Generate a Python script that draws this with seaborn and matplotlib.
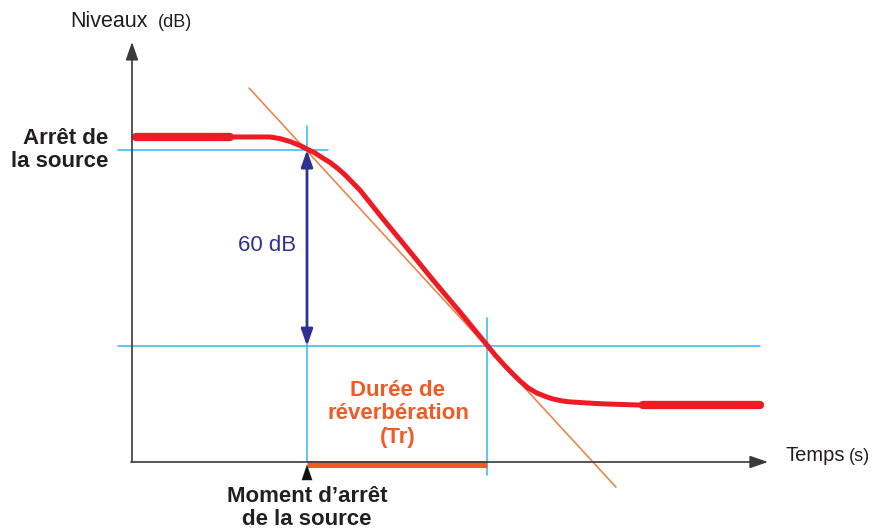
import matplotlib
matplotlib.use('Agg')
import matplotlib.pyplot as plt
import numpy as np
import pandas as pd
import seaborn as sns

sns.set_style('white')
plt.rcParams['font.family'] = ['Liberation Sans', 'DejaVu Sans']

# decay curve: time (s), level (dB)
decay_t = [0.04, 0.98, 1.38, 1.48, 1.58, 1.68, 1.75, 1.83, 1.90, 1.98, 2.06,
           2.13, 2.20, 2.28, 2.39, 2.51, 2.75, 3.01, 3.28, 3.55, 3.63, 3.73,
           3.81, 3.88, 3.96, 4.05, 4.13, 4.21, 4.30, 4.38, 4.53, 4.71, 5.11,
           6.28]
decay_db = [99.5, 99.5, 99.5, 99.0, 98.1, 96.9, 95.8, 94.6, 93.2, 91.7, 89.8,
            87.9, 85.7, 83.2, 79.0, 74.4, 65.5, 55.7, 45.9, 35.8, 32.8, 29.4,
            26.9, 24.8, 22.7, 21.1, 20.1, 19.3, 18.7, 18.4, 18.1, 17.8, 17.4,
            17.4]
steady_on = ([0.04, 0.98], [99.5, 99.5])
steady_off = ([5.11, 6.28], [17.4, 17.4])

tangent_t = [1.17, 4.84]
tangent_db = [114.5, -7.7]

t_stop = 1.75
t_end = 3.55
level_start = 95.5
level_end = 35.5

RED = '#ed1c24'
ORANGE = '#f15a24'
TANGENT = '#f47a3c'
BLUE = '#3fbff0'
NAVY = '#2e3192'
AXIS = '#3a3a3a'
INK = '#231f20'

fig = plt.figure(figsize=(8.77, 5.30), dpi=100)
ax = fig.add_axes([0, 0, 1, 1])
ax.set_xlim(-1.32, 7.45)
ax.set_ylim(-20.82, 141.43)
ax.axis('off')

# reference lines
ax.plot([-0.14, 1.96], [level_start, level_start], color=BLUE, lw=1.2)
ax.plot([-0.14, 6.28], [level_end, level_end], color=BLUE, lw=1.2)
ax.plot([t_stop, t_stop], [0, 103.0], color=BLUE, lw=1.2)
ax.plot([t_end, t_end], [-4.0, 44.0], color=BLUE, lw=1.2)

# axes with arrows
head = '-|>,head_length=1.1,head_width=0.38'
ax.annotate('', xy=(0, 128.6), xytext=(0, 0),
            arrowprops=dict(arrowstyle=head, color=AXIS, lw=1.2,
                            shrinkA=0, shrinkB=0))
ax.annotate('', xy=(6.36, 0), xytext=(-0.01, 0),
            arrowprops=dict(arrowstyle=head, color=AXIS, lw=1.2,
                            shrinkA=0, shrinkB=0))

# tangent line
sns.lineplot(x=tangent_t, y=tangent_db, color=TANGENT, lw=1.1, ax=ax, sort=False)

# decay curve
df = pd.DataFrame({'t': decay_t, 'db': decay_db})
sns.lineplot(data=df, x='t', y='db', color=RED, lw=3.6, ax=ax, sort=False,
             solid_capstyle='round', solid_joinstyle='round')
for seg in (steady_on, steady_off):
    ax.plot(seg[0], seg[1], color=RED, lw=6.0, solid_capstyle='round')

# reverberation time bar
ax.plot([t_stop, t_end], [-0.6, -0.6], color=ORANGE, lw=5.0, solid_capstyle='butt')

# 60 dB double arrow
ax.annotate('', xy=(t_stop, level_start), xytext=(t_stop, level_end),
            arrowprops=dict(arrowstyle='<|-|>,head_length=1.0,head_width=0.35',
                            color=NAVY, lw=2.0, shrinkA=0, shrinkB=0))

# marker for the moment the source stops
ax.annotate('', xy=(t_stop, -0.8), xytext=(t_stop, -5.5),
            arrowprops=dict(arrowstyle=head, color='#111111', lw=0.1,
                            shrinkA=0, shrinkB=0))

# texts
ax.text(-0.62, 134.7, 'Niveaux', fontsize=15.5, color=INK, ha='left', va='center')
ax.text(0.26, 134.4, '(dB)', fontsize=13, color=INK, ha='left', va='center')
ax.text(6.53, 2.1, 'Temps', fontsize=14.5, color=INK, ha='left', va='center')
ax.text(7.17, 1.6, '(s)', fontsize=13, color=INK, ha='left', va='center')
ax.text(-0.24, 95.5, 'Arrêt de\nla source', fontsize=16, fontweight='bold',
        color=INK, ha='right', va='center', linespacing=1.15)
ax.text(1.64, 66.4, '60 dB', fontsize=16, color=NAVY, ha='right', va='center')
ax.text(2.66, 14.7, 'Durée de\nréverbération\n(Tr)', fontsize=16, fontweight='bold',
        color=ORANGE, ha='center', va='center', linespacing=1.17)
ax.text(t_stop, -14.0, 'Moment d\u2019arrêt\nde la source', fontsize=16, fontweight='bold',
        color=INK, ha='center', va='center', linespacing=1.12)

fig.savefig('out.png', dpi=100)
